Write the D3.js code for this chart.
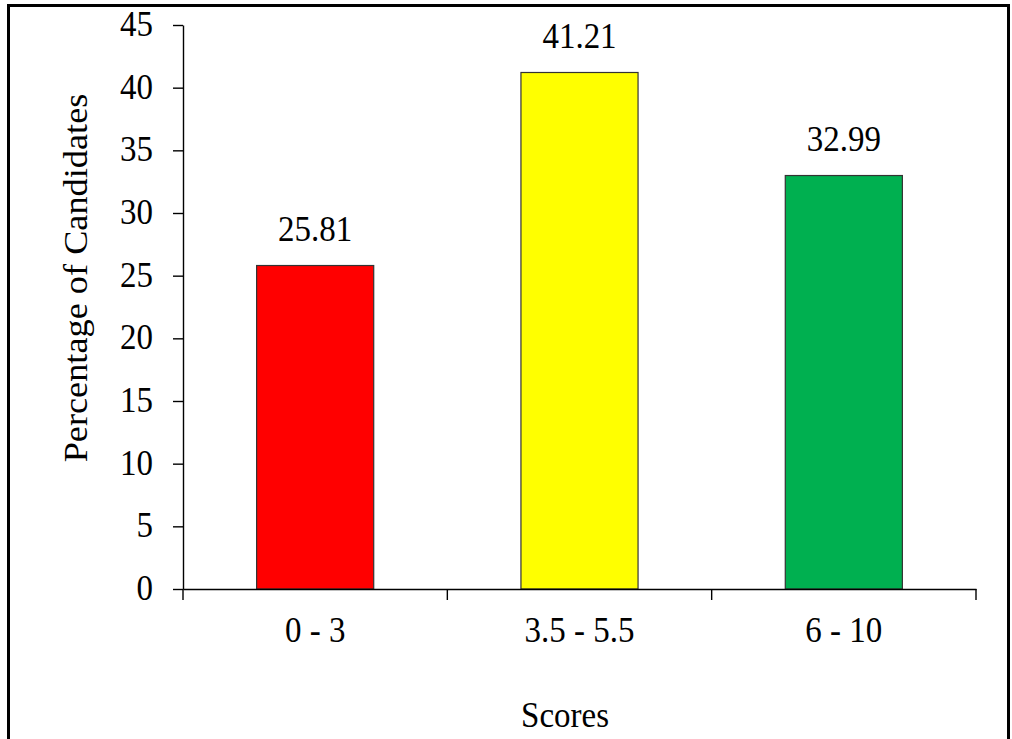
<!DOCTYPE html>
<html><head><meta charset="utf-8">
<script src="https://cdn.jsdelivr.net/npm/d3@7"></script>
<style>html,body{margin:0;padding:0;background:#fff;}svg{display:block;}</style>
</head><body>
<svg id="c" width="1012" height="739"></svg>
<script>
const categories = ["0 - 3", "3.5 - 5.5", "6 - 10"];
const values = [25.81, 41.21, 32.99];
const barColors = ["#FF0000", "#FFFF00", "#00B050"];
const yTicks = [0, 5, 10, 15, 20, 25, 30, 35, 40, 45];
const xTitle = "Scores";
const yTitle = "Percentage of Candidates";

(function () {
const svg = d3.select("#c");
const font = "'Liberation Serif','Times New Roman',serif";
const fs = 33, sy = 1.1;

// frame
svg.append("rect").attr("x", 8.5).attr("y", 5.5).attr("width", 1000).attr("height", 760)
  .attr("fill", "#fff").attr("stroke", "#000").attr("stroke-width", 3);

const pLeft = 183, pRight = 976, pTop = 25, pBottom = 589;
const x = d3.scaleBand().domain(categories).range([pLeft, pRight]).paddingInner(0.557).paddingOuter(0.2785);
const xb = d3.scaleBand().domain(categories).range([pLeft, pRight]).padding(0);
const y = d3.scaleLinear().domain([0, 45]).range([pBottom, pTop]);

function txt(g, tx, ty, s, anchor) {
  return g.append("text").attr("transform", `translate(${tx},${ty}) scale(1,${sy})`)
    .attr("text-anchor", anchor || "middle").attr("font-family", font).attr("font-size", fs)
    .attr("fill", "#000").text(s);
}

// bars
svg.selectAll("rect.bar").data(values).enter().append("rect").attr("class", "bar")
  .attr("x", (d, i) => x(categories[i]))
  .attr("width", x.bandwidth())
  .attr("y", d => y(d))
  .attr("height", d => y(0) - y(d))
  .attr("fill", (d, i) => barColors[i])
  .attr("stroke", "#333").attr("stroke-width", 1.2);

// value labels
values.forEach((v, i) => txt(svg, x(categories[i]) + x.bandwidth() / 2, y(v) - 25, v.toFixed(2)));

// y axis
const ya = svg.append("g").attr("transform", `translate(${pLeft},0)`)
  .call(d3.axisLeft(y).tickValues(yTicks).tickSize(10).tickSizeOuter(0).tickFormat(""));
ya.selectAll("path,line").attr("stroke", "#000").attr("stroke-width", 1.4);
yTicks.forEach(t => txt(svg, 153, y(t) + 11, String(t), "end"));

// x axis
const xa = svg.append("g").attr("transform", `translate(0,${pBottom})`)
  .call(d3.axisBottom(xb).tickSize(0).tickSizeOuter(0).tickFormat(""));
xa.select("path").attr("stroke", "#000").attr("stroke-width", 1.4);
const edges = categories.map(c => xb(c)).concat([pRight]);
xa.selectAll("line.edge").data(edges).enter().append("line").attr("class", "edge")
  .attr("x1", d => d).attr("x2", d => d).attr("y1", 0).attr("y2", 11)
  .attr("stroke", "#000").attr("stroke-width", 1.4);
categories.forEach(c => txt(svg, xb(c) + xb.bandwidth() / 2, 642, c));

// titles
txt(svg, 565, 727, xTitle);
svg.append("text").attr("transform", `translate(87,278) rotate(-90) scale(${sy},1)`)
  .attr("text-anchor", "middle").attr("font-family", font).attr("font-size", fs)
  .attr("fill", "#000").text(yTitle);
})();
</script>
</body></html>
